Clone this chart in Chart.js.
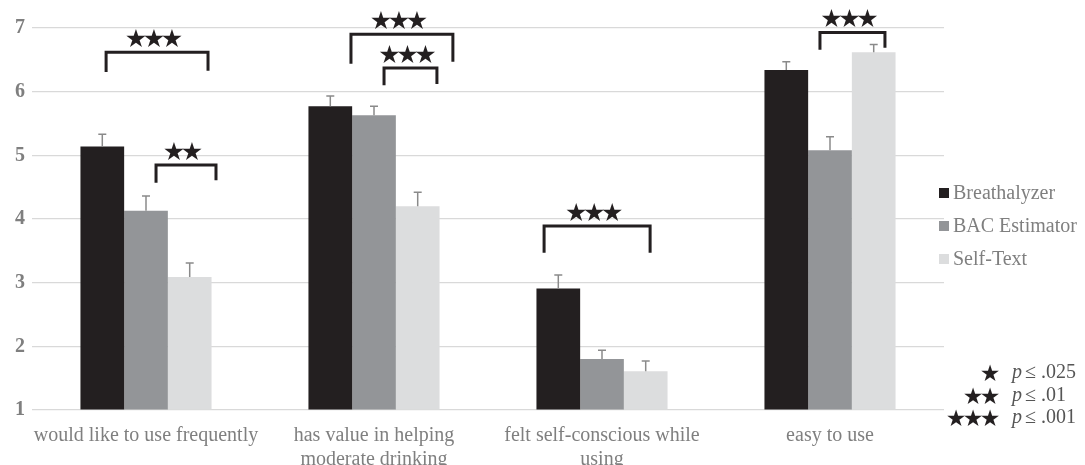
<!DOCTYPE html>
<html>
<head>
<meta charset="utf-8">
<script src="https://cdn.jsdelivr.net/npm/chart.js@4.4.1/dist/chart.umd.min.js"></script>
<style>
  html, body { margin: 0; padding: 0; background: #fff; }
  #wrap { width: 1085px; height: 465px; position: relative; }
</style>
</head>
<body>
<div id="wrap"><canvas id="myChart"></canvas></div>
<script>
const categories = [
  "would like to use frequently",
  ["has value in helping", "moderate drinking"],
  ["felt self-conscious while", "using"],
  "easy to use"
];
const seriesNames = ["Breathalyzer", "BAC Estimator", "Self-Text"];
const breathalyzer = [5.14, 5.77, 2.91, 6.34];
const bacEstimator = [4.13, 5.63, 1.80, 5.08];
const selfText = [3.09, 4.20, 1.61, 6.62];
// upper standard error for each bar
const breathalyzerErr = [0.19, 0.16, 0.21, 0.13];
const bacEstimatorErr = [0.23, 0.14, 0.14, 0.21];
const selfTextErr = [0.22, 0.22, 0.16, 0.12];
const yTicks = [1, 2, 3, 4, 5, 6, 7];

// significance brackets: x in category index units, y in scale units
const brackets = [
  { from: -0.175, to: 0.272, top: 6.62, left: 6.31, right: 6.33, stars: 3 },
  { from: 0.044, to: 0.307, top: 4.85, left: 4.57, right: 4.61, stars: 2 },
  { from: 0.899, to: 1.346, top: 6.90, left: 6.44, right: 6.47, stars: 3 },
  { from: 1.044, to: 1.276, top: 6.37, left: 6.10, right: 6.12, stars: 3 },
  { from: 1.746, to: 2.211, top: 3.89, left: 3.47, right: 3.47, stars: 3 },
  { from: 2.956, to: 3.241, top: 6.93, left: 6.66, right: 6.69, stars: 3 }
];
const keyStars = [1, 2, 3];
const keyLabels = [".025", ".01", ".001"];

const colors = ["#231f20", "#939598", "#dcddde"];
const textGrey = "#7f7f7f";
const serif = '"Liberation Serif", "Times New Roman", serif';
const starFont = '"DejaVu Sans", sans-serif';

// row of stars centred on cx, each glyph drawn separately so they sit close
function drawStars(ctx, n, cx, bottom, size, step) {
  ctx.font = size + "px " + starFont;
  ctx.textAlign = "center";
  ctx.textBaseline = "alphabetic";
  const start = cx - (n - 1) * step / 2;
  for (let i = 0; i < n; i++) {
    ctx.fillText("★", start + i * step, bottom);
  }
}

const errorBars = {
  id: "errorBars",
  afterDatasetsDraw(chart) {
    const ctx = chart.ctx;
    const y = chart.scales.y;
    ctx.save();
    ctx.strokeStyle = "#8a8a8a";
    ctx.lineWidth = 1.5;
    chart.data.datasets.forEach((ds, di) => {
      const meta = chart.getDatasetMeta(di);
      meta.data.forEach((bar, i) => {
        const top = y.getPixelForValue(ds.data[i] + ds.errors[i]);
        ctx.beginPath();
        ctx.moveTo(bar.x, bar.y);
        ctx.lineTo(bar.x, top);
        ctx.moveTo(bar.x - 4, top);
        ctx.lineTo(bar.x + 4, top);
        ctx.stroke();
      });
    });
    ctx.restore();
  }
};

const sigBrackets = {
  id: "sigBrackets",
  afterDatasetsDraw(chart) {
    const ctx = chart.ctx;
    const x = chart.scales.x;
    const y = chart.scales.y;
    ctx.save();
    ctx.strokeStyle = "#231f20";
    ctx.fillStyle = "#231f20";
    ctx.lineWidth = 3;
    ctx.lineJoin = "miter";
    brackets.forEach(b => {
      const x1 = x.getPixelForValue(b.from);
      const x2 = x.getPixelForValue(b.to);
      const yt = y.getPixelForValue(b.top);
      ctx.beginPath();
      ctx.moveTo(x1, y.getPixelForValue(b.left));
      ctx.lineTo(x1, yt);
      ctx.lineTo(x2, yt);
      ctx.lineTo(x2, y.getPixelForValue(b.right));
      ctx.stroke();
      drawStars(ctx, b.stars, (x1 + x2) / 2 - 3, yt - 5, 25, 18);
    });
    ctx.restore();
  }
};

const sideLegend = {
  id: "sideLegend",
  afterDraw(chart) {
    const ctx = chart.ctx;
    const left = chart.chartArea.right - 5;
    ctx.save();
    ctx.textBaseline = "middle";
    ctx.textAlign = "left";
    seriesNames.forEach((name, i) => {
      const cy = 193 + i * 33;
      ctx.fillStyle = colors[i];
      ctx.fillRect(left, cy - 5, 10, 10);
      ctx.fillStyle = textGrey;
      ctx.font = "20px " + serif;
      ctx.fillText(name, left + 14, cy + 1);
    });

    // p-value key
    const step = 17;
    keyStars.forEach((n, i) => {
      const cy = 373 + i * 22.5;
      ctx.fillStyle = "#231f20";
      drawStars(ctx, n, 990 - (n - 1) * step / 2, cy + 8, 23, step);
      ctx.textBaseline = "middle";
      ctx.textAlign = "left";
      ctx.fillStyle = "#555";
      ctx.font = "italic 20px " + serif;
      ctx.fillText("p", 1012, cy);
      ctx.font = "20px " + serif;
      ctx.fillText("≤ " + keyLabels[i], 1025, cy);
    });
    ctx.restore();
  }
};

new Chart(document.getElementById("myChart"), {
  type: "bar",
  data: {
    labels: categories,
    datasets: [
      { label: seriesNames[0], data: breathalyzer, errors: breathalyzerErr, backgroundColor: colors[0] },
      { label: seriesNames[1], data: bacEstimator, errors: bacEstimatorErr, backgroundColor: colors[1] },
      { label: seriesNames[2], data: selfText, errors: selfTextErr, backgroundColor: colors[2] }
    ]
  },
  options: {
    responsive: true,
    maintainAspectRatio: false,
    animation: false,
    layout: { padding: { top: 28, right: 141, left: 0, bottom: 0 } },
    datasets: { bar: { categoryPercentage: 0.575, barPercentage: 1, base: 1 } },
    plugins: { legend: { display: false }, tooltip: { enabled: false } },
    scales: {
      x: {
        grid: { display: false },
        border: { display: false },
        ticks: {
          color: textGrey,
          font: { family: serif, size: 20, lineHeight: 1.2 },
          padding: 6,
          maxRotation: 0,
          autoSkip: false
        },
        afterFit: (scale) => { scale.height = 55; }
      },
      y: {
        min: 1,
        max: 7,
        afterBuildTicks: (scale) => { scale.ticks = yTicks.map(v => ({ value: v })); },
        grid: { color: "#d9d9d9", lineWidth: 1.2, drawTicks: false },
        border: { display: false },
        ticks: {
          color: textGrey,
          font: { family: serif, size: 20, weight: "bold" },
          padding: 7
        },
        afterFit: (scale) => { scale.width = 32; }
      }
    }
  },
  plugins: [errorBars, sigBrackets, sideLegend]
});
</script>
</body>
</html>
